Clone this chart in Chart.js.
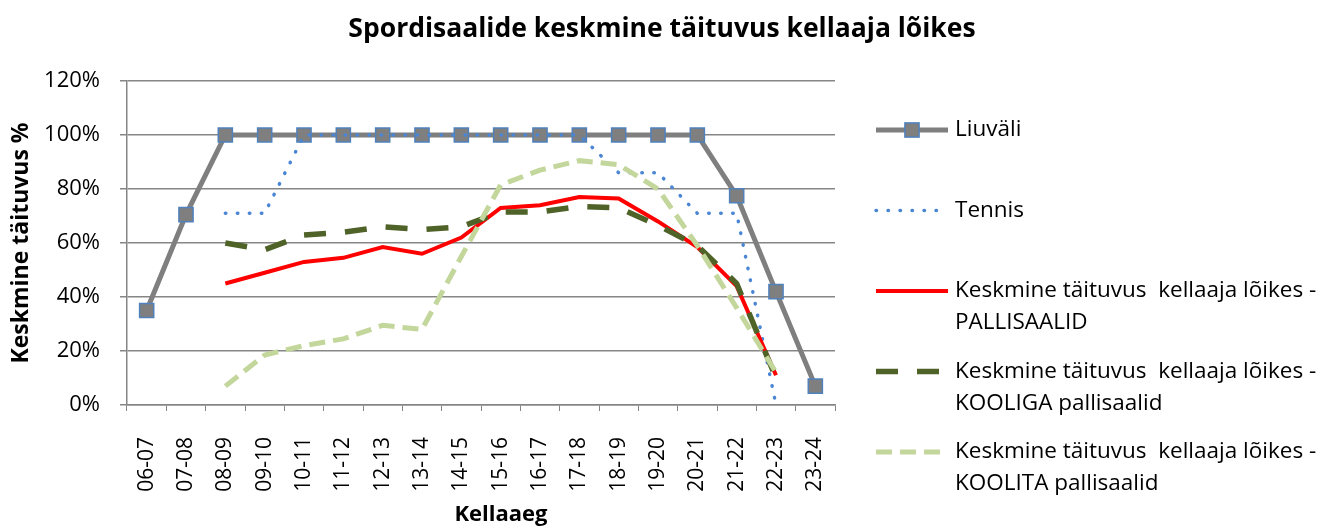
<!DOCTYPE html>
<html lang="et">
<head>
  <meta charset="UTF-8" />
  <title>Spordisaalide keskmine täituvus kellaaja lõikes</title>
  <script src="https://cdn.jsdelivr.net/npm/chart.js"></script>
  <style>
    body { margin: 0; background: #fff; }
    .chart-box { width: 1324px; height: 527px; position: relative; }
  </style>
</head>
<body>
  <div class="chart-box">
    <canvas id="occupancyChart"></canvas>
  </div>

  <script>
    // Kellaaja vahemikud (x-telg)
    const categories = ['06-07', '07-08', '08-09', '09-10', '10-11', '11-12', '12-13', '13-14', '14-15',
                        '15-16', '16-17', '17-18', '18-19', '19-20', '20-21', '21-22', '22-23', '23-24'];

    // Täituvus protsentides
    const liuvali     = [35, 70.5, 100, 100, 100, 100, 100, 100, 100, 100, 100, 100, 100, 100, 100, 77.5, 42, 7];
    const tennis      = [null, null, 71, 71, 100, 100, 100, 100, 100, 100, 100, 100, 86, 86, 71, 71, 0, null];
    const pallisaalid = [null, null, 45, 49, 53, 54.5, 58.5, 56, 62, 73, 74, 77, 76.5, 68, 58.5, 44, 11, null];
    const kooliga     = [null, null, 60, 57.5, 63, 64, 66, 65, 66, 71.5, 71.5, 73.5, 73, 66.5, 59, 45, 10, null];
    const koolita     = [null, null, 7, 18.5, 22, 24.5, 29.5, 28, 55, 81.5, 87, 90.5, 89, 80, 59, 36, 12, null];

    const yTicks = [0, 20, 40, 60, 80, 100, 120];

    // Legendi tekstid ridade kaupa
    const legendLines = [
      ['Liuväli'],
      ['Tennis'],
      ['Keskmine täituvus  kellaaja lõikes -', 'PALLISAALID'],
      ['Keskmine täituvus  kellaaja lõikes -', 'KOOLIGA pallisaalid'],
      ['Keskmine täituvus  kellaaja lõikes -', 'KOOLITA pallisaalid']
    ];

    const xTitle = 'Kellaaeg';

    const FONT = '"Open Sans", Lato, sans-serif';
    const GRID = '#868686';

    // legend on the right (two-line labels) + x axis title, drawn by hand
    const sideLegend = {
      id: 'sideLegend',
      afterDraw(chart) {
        const ctx = chart.ctx;
        const x0 = 876, x1 = 948, textX = 955;
        ctx.save();
        chart.data.datasets.forEach((ds, i) => {
          const y = 130 + i * 80.5;
          ctx.beginPath();
          ctx.strokeStyle = ds.borderColor;
          ctx.lineWidth = ds.borderWidth;
          ctx.setLineDash(ds.borderDash || []);
          ctx.lineCap = ds.borderCapStyle || 'butt';
          ctx.moveTo(x0, y);
          ctx.lineTo(x1, y);
          ctx.stroke();
          if (ds.pointRadius) {
            const s = ds.pointRadius * Math.SQRT1_2;
            const cx = (x0 + x1) / 2;
            ctx.setLineDash([]);
            ctx.fillStyle = ds.pointBackgroundColor;
            ctx.fillRect(cx - s, y - s, 2 * s, 2 * s);
            ctx.lineWidth = ds.pointBorderWidth;
            ctx.strokeStyle = ds.pointBorderColor;
            ctx.strokeRect(cx - s, y - s, 2 * s, 2 * s);
          }
          ctx.fillStyle = '#000';
          ctx.font = '22.5px ' + FONT;
          ctx.textBaseline = 'middle';
          ctx.textAlign = 'left';
          legendLines[i].forEach((line, k) => ctx.fillText(line, textX, y + k * 32));
        });

        // Excel puts the axis title a bit right of the plot centre
        ctx.font = 'bold 22px ' + FONT;
        ctx.textAlign = 'center';
        ctx.textBaseline = 'middle';
        ctx.fillText(xTitle, 501, 515);
        ctx.restore();
      }
    };

    const ctx = document.getElementById('occupancyChart').getContext('2d');
    new Chart(ctx, {
      type: 'line',
      data: {
        labels: categories,
        datasets: [
          {
            label: 'Liuväli',
            data: liuvali,
            borderColor: '#7f7f7f',
            borderWidth: 5,
            pointStyle: 'rect',
            pointRadius: 10,
            pointHoverRadius: 10,
            pointBackgroundColor: '#7f7f7f',
            pointBorderColor: '#4f81bd',
            pointBorderWidth: 1.5,
            order: 5
          },
          {
            label: 'Tennis',
            data: tennis,
            borderColor: '#4a86d4',
            borderWidth: 3.5,
            borderDash: [0.5, 11.5],
            borderCapStyle: 'round',
            pointRadius: 0,
            pointHoverRadius: 0,
            order: 4
          },
          {
            label: 'Keskmine täituvus  kellaaja lõikes - PALLISAALID',
            data: pallisaalid,
            borderColor: '#ff0000',
            borderWidth: 4,
            pointRadius: 0,
            pointHoverRadius: 0,
            order: 3
          },
          {
            label: 'Keskmine täituvus  kellaaja lõikes - KOOLIGA pallisaalid',
            data: kooliga,
            borderColor: '#4f6228',
            borderWidth: 5.5,
            borderDash: [22, 19],
            pointRadius: 0,
            pointHoverRadius: 0,
            order: 2
          },
          {
            label: 'Keskmine täituvus  kellaaja lõikes - KOOLITA pallisaalid',
            data: koolita,
            borderColor: '#c3d69b',
            borderWidth: 5,
            borderDash: [16, 8],
            pointRadius: 0,
            pointHoverRadius: 0,
            order: 1
          }
        ]
      },
      options: {
        responsive: true,
        maintainAspectRatio: false,
        animation: false,
        events: [],
        layout: { padding: 0 },
        plugins: {
          legend: { display: false },
          tooltip: { enabled: false },
          title: {
            display: true,
            text: 'Spordisaalide keskmine täituvus kellaaja lõikes',
            color: '#000',
            font: { family: FONT, size: 26.5, weight: 'bold' },
            padding: { top: 14, bottom: 35.2 }
          }
        },
        scales: {
          x: {
            offset: true,
            grid: { display: true, drawOnChartArea: false, drawTicks: true, tickLength: 6, color: GRID, offset: true },
            border: { color: GRID, width: 1.5 },
            ticks: {
              autoSkip: false,
              minRotation: 90,
              maxRotation: 90,
              padding: 26,
              color: '#000',
              font: { family: FONT, size: 21 }
            },
            afterFit(scale) { scale.height = 122; }
          },
          y: {
            min: 0,
            max: 120,
            afterBuildTicks(scale) { scale.ticks = yTicks.map(v => ({ value: v })); },
            grid: { color: GRID, lineWidth: 1.5, tickLength: 7 },
            border: { color: GRID, width: 1.5 },
            ticks: {
              padding: 20,
              color: '#000',
              font: { family: FONT, size: 22 },
              callback: v => v + '%'
            },
            title: {
              display: true,
              text: 'Keskmine täituvus %',
              color: '#000',
              font: { family: FONT, size: 23, weight: 'bold' },
              padding: { top: 8, bottom: 0 }
            },
            afterFit(scale) { scale.width = 127; }
          },
          legendSpace: {
            type: 'linear',
            position: 'right',
            display: true,
            grid: { display: false },
            border: { display: false },
            ticks: { display: false },
            afterFit(scale) { scale.width = 489; }
          }
        }
      },
      plugins: [sideLegend]
    });
  </script>
</body>
</html>
